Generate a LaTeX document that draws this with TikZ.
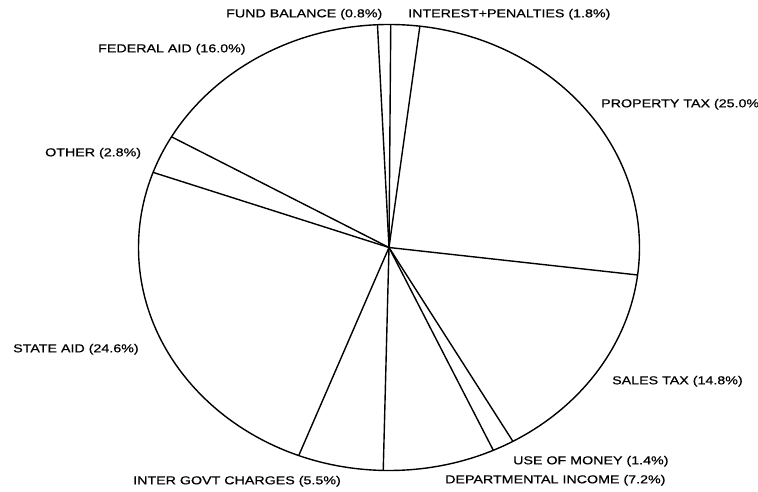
\documentclass[tikz,border=0pt]{standalone}
\usepackage{fontspec}
\setmainfont{Liberation Sans}[FakeStretch=1.24,FakeBold=0.6]
\usetikzlibrary{calc}
\begin{document}
\begin{tikzpicture}[x=1pt,y=1pt,
  lbl/.style={anchor=base west,inner sep=0pt,font=\fontsize{11.5}{12}\selectfont},
  pieline/.style={line width=1.4pt,line join=round}]
\useasboundingbox (0,0) rectangle (758,492);
\coordinate (c) at (389,244.5);
% boundary angles
\foreach \n/\a in {fi/89.6,ip/82.92,ps/-7.08,su/-60.36,ud/-65.4,dg/-91.32,gs/-111.12,so/-199.68,of/-209.76,ff/92.64}{
  \coordinate (\n) at ($(c)+(\a:250.5pt and 223pt)$);
}
\draw[pieline] (c) ellipse [x radius=250.5pt, y radius=223pt];
\foreach \n in {fi,ip,ps,su,ud,dg,gs,so,of,ff}{
  \draw[pieline] (c) -- (\n);
}
% labels (baseline = 492 - ycenter - 4.3)
\node[lbl] (lfund)  at (226,474.7) {FUND BALANCE (0.8\%)};
\node[lbl] (lint)   at (408,474.7) {INTEREST+PENALTIES (1.8\%)};
\node[lbl] (lfed)   at (98,439.7)  {FEDERAL AID (16.0\%)};
\node[lbl] (loth)   at (45,335.7)  {OTHER (2.8\%)};
\node[lbl] (lprop)  at (601,384.7) {PROPERTY TAX (25.0\%)};
\node[lbl] (lstate) at (13,139.7)  {STATE AID (24.6\%)};
\node[lbl] (lsales) at (612,107.7) {SALES TAX (14.8\%)};
\node[lbl] (luse)   at (513,27.7)  {USE OF MONEY (1.4\%)};
\node[lbl] (ldep)   at (445,8.7)   {DEPARTMENTAL INCOME (7.2\%)};
\node[lbl] (lgov)   at (133,7.7)   {INTER GOVT CHARGES (5.5\%)};
\end{tikzpicture}
\end{document}
